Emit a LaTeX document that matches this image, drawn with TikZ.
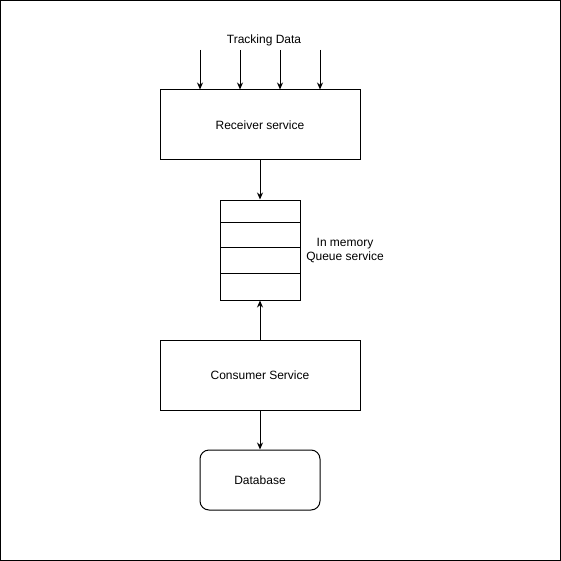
\documentclass[tikz,border=0pt]{standalone}
\usepackage{fontspec}
\setmainfont{Liberation Sans}
\usetikzlibrary{arrows.meta}
\begin{document}
\begin{tikzpicture}[x=1pt,y=-1pt,
  box/.style={draw,line width=1pt,minimum width=200pt,minimum height=70pt,inner sep=0pt,font=\fontsize{12}{14}\selectfont},
  arr/.style={line width=1pt,-{Stealth[length=7pt,width=6pt]}},
  lbl/.style={font=\fontsize{12}{14}\selectfont,inner sep=0pt}]
\useasboundingbox (0,0) rectangle (561,561);
\draw[line width=1pt] (0.5,0.5) rectangle (560.5,560.5);
\node[box] (recv) at (260,125) {Receiver service};
\node[box] (cons) at (260,375) {Consumer Service};
\node[box,minimum width=120pt,minimum height=60pt,rounded corners=9pt] (db) at (260,480) {Database};
\node[draw,line width=1pt,minimum width=80pt,minimum height=100pt,inner sep=0pt] (q) at (260,250) {};
\draw[line width=1pt] (220,222) coordinate (l1a) -- (300,222) coordinate (l1b);
\draw[line width=1pt] (220,247) coordinate (l2a) -- (300,247) coordinate (l2b);
\draw[line width=1pt] (220,273) coordinate (l3a) -- (300,273) coordinate (l3b);
\node[lbl,align=center] (qlbl) at (345,251) {In memory\\Queue service};
\node[lbl] (td) at (264,40) {Tracking Data};
\foreach \x/\n in {200/a,240/b,280/c,320/d}{
  \coordinate (s\n) at (\x,50);
  \draw[arr] (s\n) -- (s\n |- recv.north);
}
\draw[arr] (recv.south) -- (q.north);
\draw[arr] (cons.north) -- (q.south);
\draw[arr] (cons.south) -- (db.north);
\end{tikzpicture}
\end{document}
